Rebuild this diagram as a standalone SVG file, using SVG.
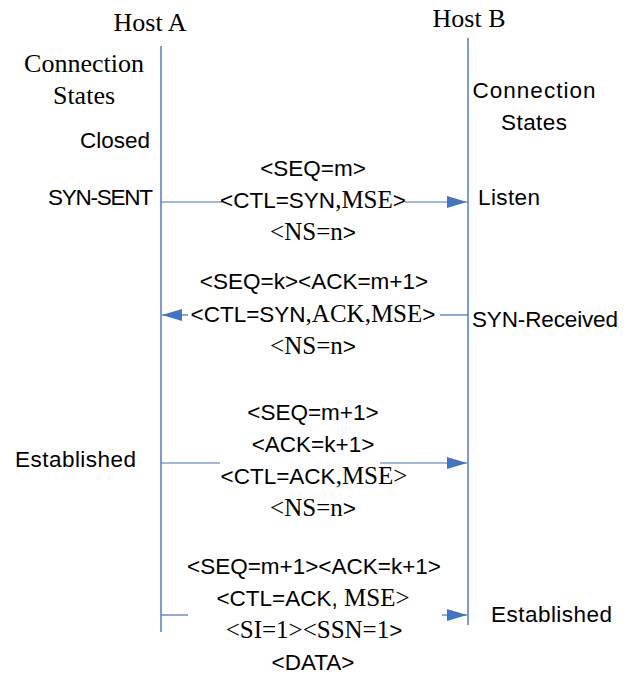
<svg xmlns="http://www.w3.org/2000/svg" width="632" height="675" viewBox="0 0 632 675">
  <style>
    .serif { font-family: "Liberation Serif", "Times New Roman", serif; font-size: 26px; fill: #000; }
    .sans { font-family: "Liberation Sans", Arial, sans-serif; font-size: 22.5px; fill: #000; }
    .msg { text-anchor: middle; }
    .tm { font-family: "Liberation Serif", "Times New Roman", serif; font-size: 25px; }
    .life { stroke: #4472C4; stroke-width: 1.4; fill: none; }
    .conn { stroke: #4472C4; stroke-width: 1.2; fill: none; }
  </style>
  <defs>
    <marker id="arrow" viewBox="0 0 20 12" refX="20" refY="6" markerWidth="20" markerHeight="12" markerUnits="userSpaceOnUse" orient="auto">
      <path d="M0,0 L20,6 L0,12 Z" fill="#4472C4"/>
    </marker>
  </defs>
  <rect width="632" height="675" fill="#fff"/>

  <!-- Host A with its lifeline and states -->
  <g id="hostA">
    <text class="serif" x="150" y="31" text-anchor="middle">Host A</text>
    <line class="life" x1="161" y1="46" x2="161" y2="632"/>
    <text class="serif" x="84" y="72" text-anchor="middle">Connection</text>
    <text class="serif" x="84" y="104" text-anchor="middle">States</text>
    <text class="sans" x="150" y="148" text-anchor="end" textLength="70">Closed</text>
    <text class="sans" x="153" y="205" text-anchor="end" textLength="105">SYN-SENT</text>
    <text class="sans" x="136" y="467" text-anchor="end" textLength="121">Established</text>
  </g>

  <!-- Host B with its lifeline and states -->
  <g id="hostB">
    <text class="serif" x="469" y="27" text-anchor="middle">Host B</text>
    <line class="life" x1="468" y1="38" x2="468" y2="625"/>
    <text class="sans" x="534" y="98" text-anchor="middle" textLength="123">Connection</text>
    <text class="sans" x="534" y="130" text-anchor="middle" textLength="66">States</text>
    <text class="sans" x="478" y="205" textLength="62">Listen</text>
    <text class="sans" x="472" y="327" textLength="146">SYN-Received</text>
    <text class="sans" x="491" y="622" textLength="121">Established</text>
  </g>

  <!-- Message arrows between the lifelines -->
  <g id="connectors">
    <line class="conn" x1="161" y1="202" x2="222" y2="202"/>
    <line class="conn" x1="405" y1="202" x2="467" y2="202" marker-end="url(#arrow)"/>
    <line class="conn" x1="468" y1="315" x2="440" y2="315"/>
    <line class="conn" x1="188" y1="315" x2="162" y2="315" marker-end="url(#arrow)"/>
    <line class="conn" x1="161" y1="463" x2="220" y2="463"/>
    <line class="conn" x1="380" y1="463" x2="467" y2="463" marker-end="url(#arrow)"/>
    <line class="conn" x1="161" y1="615" x2="188" y2="615"/>
    <line class="conn" x1="442" y1="615" x2="467" y2="615" marker-end="url(#arrow)"/>
  </g>

  <!-- SYN -->
  <g id="msg1">
    <text class="sans msg" x="313" y="176">&lt;SEQ=m&gt;</text>
    <text class="sans msg" x="313" y="208">&lt;CTL=SYN<tspan class="tm">,MSE</tspan>&gt;</text>
    <text class="sans msg" x="313" y="240"><tspan class="tm">&lt;NS=n</tspan>&gt;</text>
  </g>

  <!-- SYN/ACK -->
  <g id="msg2">
    <text class="sans msg" x="314" y="289">&lt;SEQ=k&gt;&lt;ACK=m+1&gt;</text>
    <text class="sans msg" x="313" y="322">&lt;CTL=SYN<tspan class="tm">,ACK,MSE</tspan>&gt;</text>
    <text class="sans msg" x="313" y="354"><tspan class="tm">&lt;NS=n</tspan>&gt;</text>
  </g>

  <!-- ACK -->
  <g id="msg3">
    <text class="sans msg" x="313" y="420">&lt;SEQ=m+1&gt;</text>
    <text class="sans msg" x="313" y="452">&lt;ACK=k+1&gt;</text>
    <text class="sans msg" x="314" y="484">&lt;CTL=ACK<tspan class="tm">,MSE&gt;</tspan></text>
    <text class="sans msg" x="313" y="516"><tspan class="tm">&lt;NS=n</tspan>&gt;</text>
  </g>

  <!-- First data segment -->
  <g id="msg4">
    <text class="sans msg" x="314" y="574">&lt;SEQ=m+1&gt;&lt;ACK=k+1&gt;</text>
    <text class="sans msg" x="313" y="606">&lt;CTL=ACK, <tspan class="tm">MSE&gt;</tspan></text>
    <text class="sans msg" x="314" y="638"><tspan class="tm">&lt;SI=1&gt;&lt;SSN=1</tspan>&gt;</text>
    <text class="sans msg" x="313" y="670">&lt;DATA&gt;</text>
  </g>
</svg>
